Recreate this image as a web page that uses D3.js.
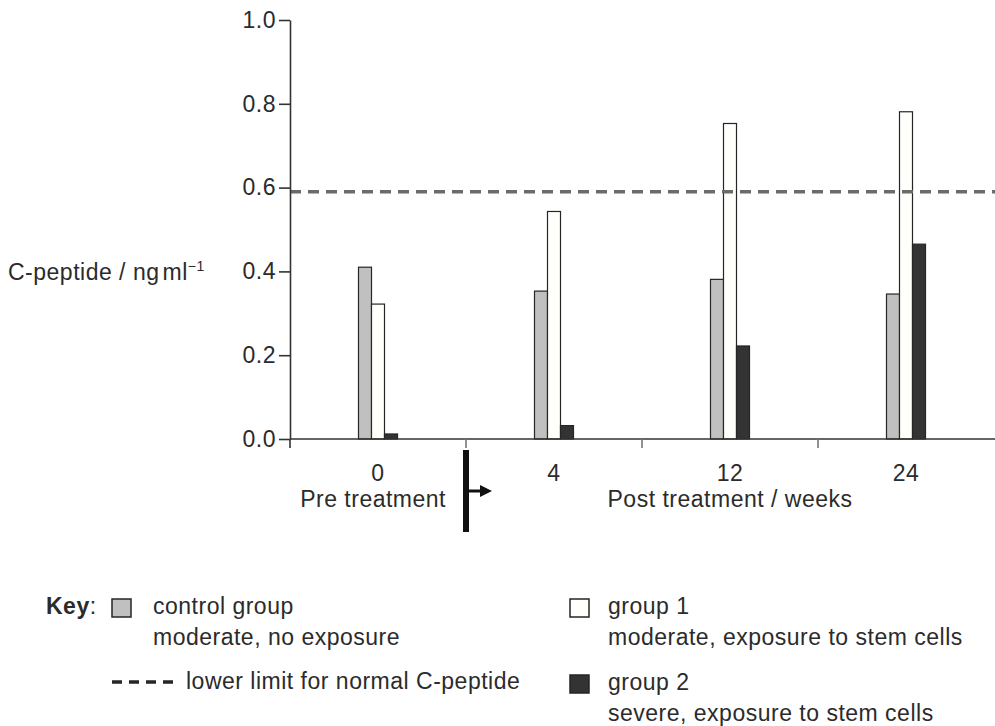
<!DOCTYPE html>
<html lang="en">
<head>
    <meta charset="UTF-8">
    <title>C-peptide before and after treatment</title>
    <style>
        html, body {
            margin: 0;
            padding: 0;
            background-color: #ffffff;
        }
        svg text {
            font-family: 'Liberation Sans', Arial, sans-serif;
            font-size: 23px;
            fill: #2b2b2b;
            letter-spacing: 0.5px;
        }
    </style>
</head>
<body>
    <div id="chart"></div>
    <script src="https://d3js.org/d3.v7.min.js"></script>
    <script>
        // data
        const weeks = ["0", "4", "12", "24"];
        const groups = ["control", "group1", "group2"];
        const control = [0.41, 0.353, 0.381, 0.346];
        const group1 = [0.322, 0.543, 0.753, 0.781];
        const group2 = [0.012, 0.032, 0.222, 0.465];
        const normalLimit = 0.59;
        const yTicks = [0, 0.2, 0.4, 0.6, 0.8, 1.0];
        const groupColours = ["#c0c0c0", "#fffffc", "#333333"];
        const legendLines = [
            ["control group", "moderate, no exposure"],
            ["group 1", "moderate, exposure to stem cells"],
            ["group 2", "severe, exposure to stem cells"]
        ];
        const limitLabel = "lower limit for normal C-peptide";

        const width = 995, height = 726;
        const svg = d3.select("#chart")
            .append("svg")
            .attr("width", width)
            .attr("height", height);

        // SCALES
        const x = d3.scaleBand()
            .domain(weeks)
            .range([290, 994]);
        const inner = d3.scaleBand()
            .domain(groups)
            .range([0, 39]);
        const y = d3.scaleLinear()
            .domain([0, 1])
            .range([439, 20]);

        const rows = weeks.map((w, i) => ({
            week: w,
            values: [control[i], group1[i], group2[i]]
        }));

        // BARS
        const barOffset = (x.bandwidth() - 39) / 2;
        const barGroups = svg.selectAll("g.week")
            .data(rows).enter()
            .append("g")
            .attr("class", "week")
            .attr("transform", (d) => `translate(${x(d.week) + barOffset}, 0)`);

        barGroups.selectAll("rect")
            .data((d) => d.values.map((v, j) => ({ key: groups[j], value: v, colour: groupColours[j] })))
            .enter()
            .append("rect")
            .attr("x", (d) => inner(d.key))
            .attr("width", inner.bandwidth())
            .attr("y", (d) => y(d.value))
            .attr("height", (d) => y(0) - y(d.value))
            .style("fill", (d) => d.colour)
            .style("stroke", "#262626")
            .style("stroke-width", 1.2);

        // NORMAL LIMIT LINE
        svg.append("line")
            .attr("x1", x.range()[0])
            .attr("x2", width)
            .attr("y1", y(normalLimit))
            .attr("y2", y(normalLimit))
            .style("stroke", "#6b6b6b")
            .style("stroke-width", 3.5)
            .style("stroke-dasharray", "11,7");

        // Y AXIS
        const yAxis = d3.axisLeft(y)
            .tickValues(yTicks)
            .tickFormat(d3.format(".1f"))
            .tickSize(11)
            .tickSizeOuter(0)
            .tickPadding(3);
        const yg = svg.append("g")
            .attr("transform", `translate(${x.range()[0]}, 0)`)
            .call(yAxis);
        yg.select(".domain").style("stroke", "#333").style("stroke-width", 1.6);
        yg.selectAll(".tick line").style("stroke", "#333").style("stroke-width", 1.6);
        yg.selectAll(".tick text")
            .attr("font-size", null)
            .attr("font-family", null)
            .attr("fill", null);

        // X AXIS (labels centred on each week)
        const xAxis = d3.axisBottom(x)
            .tickSize(0)
            .tickSizeOuter(0)
            .tickPadding(26);
        const xg = svg.append("g")
            .attr("transform", `translate(0, ${y(0)})`)
            .call(xAxis);
        xg.select(".domain").remove();
        xg.selectAll(".tick text")
            .attr("font-size", null)
            .attr("font-family", null)
            .attr("fill", null);

        svg.append("line")
            .attr("x1", x.range()[0])
            .attr("x2", width)
            .attr("y1", y(0))
            .attr("y2", y(0))
            .style("stroke", "#333")
            .style("stroke-width", 1.6);

        // ticks between the weeks
        svg.selectAll("line.sep")
            .data(weeks).enter()
            .append("line")
            .attr("class", "sep")
            .attr("x1", (d) => x(d))
            .attr("x2", (d) => x(d))
            .attr("y1", y(0))
            .attr("y2", y(0) + 9)
            .style("stroke", (d, i) => i === 0 ? "#333" : "#777")
            .style("stroke-width", 1.6);

        // PRE / POST DIVIDER
        const divX = x(weeks[1]);
        svg.append("line")
            .attr("x1", divX)
            .attr("x2", divX)
            .attr("y1", 450)
            .attr("y2", 532)
            .style("stroke", "#111")
            .style("stroke-width", 6);
        svg.append("line")
            .attr("x1", divX + 2)
            .attr("x2", divX + 16)
            .attr("y1", 491)
            .attr("y2", 491)
            .style("stroke", "#111")
            .style("stroke-width", 3);
        svg.append("path")
            .attr("d", `M${divX + 14},485 L${divX + 26},491 L${divX + 14},497 Z`)
            .style("fill", "#111");

        svg.append("text")
            .attr("x", divX - 20)
            .attr("y", 507)
            .attr("text-anchor", "end")
            .text("Pre treatment");
        svg.append("text")
            .attr("x", x(weeks[2]) + x.bandwidth() / 2)
            .attr("y", 507)
            .attr("text-anchor", "middle")
            .text("Post treatment / weeks");

        // Y LABEL
        const ylab = svg.append("text")
            .attr("x", 8)
            .attr("y", 280);
        ylab.append("tspan").text("C-peptide / ng");
        ylab.append("tspan").attr("dx", 3).text("ml");
        ylab.append("tspan")
            .attr("dy", -9)
            .style("font-size", "14px")
            .text("\u22121");

        // KEY
        const key = svg.append("text")
            .attr("x", 46)
            .attr("y", 614);
        key.append("tspan").style("font-weight", "bold").text("Key");
        key.append("tspan").text(":");

        const legendX = [112, 570, 570];
        const legendTextX = [153, 608, 608];
        const legendY = [614, 614, 690];
        legendLines.forEach((lines, i) => {
            svg.append("rect")
                .attr("x", legendX[i])
                .attr("y", legendY[i] - 15)
                .attr("width", 19)
                .attr("height", 18)
                .style("fill", groupColours[i])
                .style("stroke", "#262626")
                .style("stroke-width", 1.5);
            lines.forEach((t, k) => {
                svg.append("text")
                    .attr("x", legendTextX[i])
                    .attr("y", legendY[i] + k * 31)
                    .text(t);
            });
        });

        svg.append("line")
            .attr("x1", 112)
            .attr("x2", 173)
            .attr("y1", 682)
            .attr("y2", 682)
            .style("stroke", "#262626")
            .style("stroke-width", 3.5)
            .style("stroke-dasharray", "10,7");
        svg.append("text")
            .attr("x", 186)
            .attr("y", 689)
            .text(limitLabel);
    </script>
</body>
</html>
